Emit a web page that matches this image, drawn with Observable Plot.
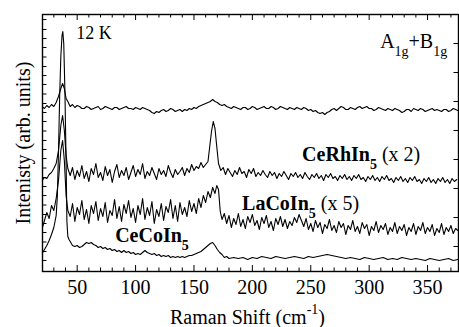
<!DOCTYPE html>
<html><head><meta charset="utf-8">
<script src="https://cdn.jsdelivr.net/npm/d3@7"></script>
<script src="https://cdn.jsdelivr.net/npm/@observablehq/plot@0.6"></script>
<style>html,body{margin:0;padding:0;background:#fff;} #chart{width:459px;height:327px;overflow:hidden}
#chart svg, #chart svg text, #chart svg tspan { font-family: "Liberation Serif", "Times New Roman", serif !important; }</style>
</head><body><div id="chart"></div>
<script>
// Raman shift (cm^-1) vs intensity (arb. units, curves already offset as plotted)
const curveTop = [[20,165],[22,163],[24,166],[26,164],[28,167],[30,165],[32,169],[34,175],[36,183],[37.5,188],[39,183],[40.5,173],[42,170],[44,165],[46,167],[48,164],[50,166],[52,165],[54,163],[56,163],[58,165],[60,164],[62,162],[64,163],[66,164],[68,165],[70,162],[72,163],[74,165],[76,164],[78,163],[80,162],[82,164],[84,164],[86,162],[88,163],[90,164],[92,165],[94,163],[96,163],[98,162],[100,164],[102,163],[104,162],[106,164],[108,163],[110,162],[112,161],[114,159],[116,158],[118,160],[120,159],[122,161],[124,162],[126,160],[128,161],[130,163],[132,162],[134,160],[136,161],[138,162],[140,160],[142,162],[144,161],[146,163],[148,162],[150,164],[152,163],[154,165],[156,166],[158,167],[160,168],[162,169],[164,170],[166,172],[167,171],[168,170],[170,169],[172,167],[174,166],[176,167],[178,165],[180,164],[182,163],[184,165],[186,164],[188,163],[190,162],[192,164],[194,164],[196,162],[198,163],[200,165],[202,164],[204,162],[206,163],[208,164],[210,165],[212,163],[214,163],[216,165],[218,164],[220,162],[222,163],[224,165],[226,164],[228,163],[230,162],[232,164],[234,163],[236,162],[238,164],[240,163],[242,162],[244,164],[246,163],[248,161],[250,162],[252,160],[254,161],[256,159],[258,158],[260,159],[262,157],[264,159],[266,160],[268,162],[270,163],[272,161],[274,163],[276,165],[278,164],[280,162],[282,162],[284,164],[286,163],[288,162],[290,164],[292,165],[294,163],[296,164],[298,165],[300,163],[302,163],[304,161],[306,162],[308,164],[310,163],[312,162],[314,161],[316,163],[318,162],[320,161],[322,163],[324,162],[326,161],[328,159],[330,160],[332,162],[334,162],[336,160],[338,163],[340,162],[342,161],[344,163],[346,162],[348,160],[350,161],[352,162],[354,163],[356,161],[358,162],[360,161],[362,160],[364,162],[366,162],[368,160],[370,161],[372,163],[374,162],[376,161]];

const curveCeRhIn5 = [[20,91],[22,94],[24,93],[26,97],[28,99],[30,103],[32,108],[34,121],[36,146],[37.5,156],[39,141],[40.5,116],[42,103],[44,96],[46,104],[48,92],[50,101],[52,95],[54,106],[56,93],[58,100],[60,90],[62,103],[64,97],[66,108],[68,94],[70,99],[72,91],[74,105],[76,96],[78,102],[80,89],[82,100],[84,107],[86,94],[88,101],[90,96],[92,104],[94,92],[96,99],[98,106],[100,95],[102,102],[104,97],[106,108],[108,93],[110,100],[112,96],[114,104],[116,98],[118,92],[120,103],[122,97],[124,101],[126,95],[128,106],[130,99],[132,94],[134,102],[136,97],[138,100],[140,104],[142,96],[144,103],[146,99],[148,107],[150,101],[152,105],[154,103],[156,109],[158,104],[160,107],[162,110],[163.5,125],[165,140],[166.5,150],[168,143],[169.5,125],[171,108],[173,101],[175,104],[177,97],[179,103],[181,99],[183,95],[185,101],[187,97],[189,104],[191,98],[193,100],[195,94],[197,102],[199,98],[201,103],[203,95],[205,99],[207,96],[209,101],[211,97],[213,94],[215,100],[217,96],[219,99],[221,93],[223,98],[225,95],[227,100],[229,96],[231,92],[233,98],[235,95],[237,99],[239,94],[241,97],[243,93],[245,99],[247,95],[249,92],[251,97],[253,94],[255,98],[257,93],[259,96],[261,91],[263,97],[265,94],[267,98],[269,93],[271,95],[273,91],[275,96],[277,93],[279,97],[281,92],[283,95],[285,91],[287,96],[289,93],[291,97],[293,92],[295,94],[297,90],[299,95],[301,92],[303,96],[305,91],[307,94],[309,90],[311,95],[313,92],[315,96],[317,91],[319,93],[321,89],[323,94],[325,91],[327,95],[329,90],[331,93],[333,89],[335,94],[337,91],[339,95],[341,90],[343,92],[345,88],[347,93],[349,90],[351,94],[353,89],[355,92],[357,88],[359,93],[361,90],[363,94],[365,89],[367,92],[369,88],[371,93],[373,90],[375,92]];

const curveLaCoIn5 = [[20,43],[22,51],[24,59],[26,53],[28,66],[30,61],[32,73],[34,91],[36,121],[37.5,131],[39,111],[40.5,76],[42,61],[44,55],[46,68],[48,50],[50,64],[52,57],[54,71],[56,52],[58,62],[60,48],[62,66],[64,58],[66,70],[68,51],[70,63],[72,55],[74,69],[76,49],[78,61],[80,56],[82,72],[84,53],[86,65],[88,50],[90,67],[92,58],[94,71],[96,54],[98,63],[100,49],[102,66],[104,57],[106,73],[108,52],[110,64],[112,56],[114,70],[116,48],[118,62],[120,55],[122,68],[124,51],[126,65],[128,59],[130,72],[132,53],[134,66],[136,50],[138,69],[140,57],[142,64],[144,55],[146,71],[148,60],[150,68],[152,58],[154,73],[156,64],[158,76],[160,69],[162,80],[164,74],[166,84],[168,78],[169.5,86],[171,82],[172.5,60],[174,52],[176,58],[178,48],[180,56],[182,44],[184,53],[186,47],[188,58],[190,45],[192,52],[194,43],[196,55],[198,49],[200,57],[202,46],[204,51],[206,42],[208,54],[210,48],[212,56],[214,44],[216,50],[218,41],[220,53],[222,47],[224,55],[226,45],[228,52],[230,43],[232,50],[234,46],[236,54],[238,49],[240,57],[242,51],[244,45],[246,53],[248,42],[250,48],[252,40],[254,51],[256,44],[258,49],[260,38],[262,47],[264,43],[266,52],[268,41],[270,46],[272,39],[274,50],[276,44],[278,48],[280,37],[282,46],[284,42],[286,51],[288,40],[290,45],[292,38],[294,49],[296,43],[298,47],[300,36],[302,45],[304,41],[306,50],[308,39],[310,46],[312,42],[314,48],[316,37],[318,44],[320,40],[322,49],[324,38],[326,45],[328,41],[330,47],[332,36],[334,44],[336,40],[338,48],[340,37],[342,45],[344,41],[346,49],[348,38],[350,44],[352,40],[354,47],[356,36],[358,43],[360,39],[362,48],[364,37],[366,44],[368,40],[370,46],[372,38],[374,43],[376,41]];

const curveCeCoIn5 = [[20,18],[22,22],[24,26],[26,31],[28,37],[30,44],[32,56],[33,75],[34,120],[35,175],[36,215],[37,236],[37.7,240],[38.5,228],[39.5,180],[40.5,110],[41.2,50],[42,35],[43,32],[44,30],[46,26],[48,25],[50,26],[52,24],[54,25],[56,27],[58,29],[60,28],[62,29],[64,27],[66,26],[68,24],[70,25],[72,23],[74,24],[76,22],[78,23],[80,21],[82,22],[84,20],[86,21],[88,19],[90,21],[92,19],[94,20],[96,18],[98,19],[100,17],[102,18],[104,17],[106,19],[108,21],[110,19],[112,18],[114,17],[116,18],[118,16],[120,17],[122,15],[124,16],[126,15],[128,16],[130,14],[132,15],[134,14],[136,15],[138,14],[140,15],[142,14],[144,15],[146,16],[148,16],[150,17],[152,18],[154,19],[156,20],[158,22],[160,24],[162,26],[164,28],[166,29],[168,26],[170,22],[172,19],[174,17],[176,14],[178,15],[180,13],[184,14],[188,13],[192,14],[196,12],[200,14],[204,13],[208,15],[212,14],[216,13],[220,15],[224,14],[228,13],[232,14],[236,15],[240,14],[244,13],[248,15],[252,14],[256,15],[260,16],[264,17],[268,16],[272,15],[276,14],[280,13],[284,14],[288,13],[292,12],[296,14],[300,13],[304,12],[308,13],[312,14],[316,12],[320,13],[324,12],[328,14],[332,13],[336,12],[340,13],[344,12],[348,11],[352,13],[356,12],[360,11],[364,12],[368,13],[372,11],[376,12]];

// axes
const xLabelTicks = [50, 100, 150, 200, 250, 300, 350];
const xMinorTicks = [30, 40, 60, 70, 80, 90, 110, 120, 130, 140, 160, 170, 180, 190, 210, 220, 230, 240, 260, 270, 280, 290, 310, 320, 330, 340, 360, 370];
const yLeftTicks = [11, 20, 29.5, 39, 48, 57, 66.5, 76, 85, 94, 103.5, 113, 122, 131, 140.5, 150, 159, 168, 177.5, 187, 196, 205, 214.5, 224, 233, 242, 252];
const yRightTicks = [25, 54, 83, 112, 141, 170, 199, 228];
const xTitle = "Raman Shift (cm^-1^)";
const yTitle = "Intenisty (arb. units)";

// annotations (markup: **bold**, _sub_, ^sup^)
const annText = ["12 K", "A_1g_+B_1g_", "**CeRhIn_5_** (x 2)", "**LaCoIn_5_** (x 5)", "**CeCoIn_5_**"];
const annX = [49.1, 309.4, 242.6, 191.2, 82.5];
const annY = [233, 224, 111, 62, 30];
const annSize = [18, 20, 20, 20, 20];

const series = [["top", curveTop], ["CeRhIn5", curveCeRhIn5], ["LaCoIn5", curveLaCoIn5], ["CeCoIn5", curveCeCoIn5]];
const lineData = series.flatMap(([s, pts]) => pts.map(([x, y]) => ({s, x, y})));
const ann = annText.map((t, i) => ({t, x: annX[i], y: annY[i], size: annSize[i]}));

const W = 459, H = 327, mT = 14, mB = 56, mL = 42, mR = 1;
const fH = H - mT - mB, fW = W - mL - mR;
const FONT = "Liberation Serif";

const chart = Plot.plot({
  width: W, height: H,
  marginTop: mT, marginBottom: mB, marginLeft: mL, marginRight: mR,
  x: {domain: [20.3, 376.5]},
  y: {domain: [0, 257], axis: null},
  style: {fontFamily: FONT, fontSize: "20px", color: "black", background: "white"},
  marks: [
    Plot.line(lineData, {x: "x", y: "y", z: "s", stroke: "#000", strokeWidth: 1.1, clip: true}),
    Plot.ruleX(xMinorTicks, {x: d => d, insetTop: fH - 3.5, stroke: "black", strokeWidth: 1}),
    Plot.ruleX(xLabelTicks, {x: d => d, insetTop: fH - 6, stroke: "black", strokeWidth: 1}),
    Plot.ruleX(xMinorTicks, {x: d => d, insetBottom: fH - 3.5, stroke: "black", strokeWidth: 1}),
    Plot.ruleX(xLabelTicks, {x: d => d, insetBottom: fH - 6, stroke: "black", strokeWidth: 1}),
    Plot.ruleY(yLeftTicks, {y: d => d, insetRight: fW - 4.5, stroke: "black", strokeWidth: 1}),
    Plot.ruleY(yRightTicks, {y: d => d, insetLeft: fW - 4.5, stroke: "black", strokeWidth: 1}),
    Plot.frame({stroke: "black", strokeWidth: 1.4}),
    Plot.axisX(xLabelTicks, {tickSize: 0, tickPadding: 8, fontSize: 20, fontFamily: FONT, label: null}),
    Plot.text([xTitle], {text: d => d, frameAnchor: "bottom", dy: 52, dx: -3, textAnchor: "middle", lineAnchor: "bottom", fontSize: 20, fontFamily: FONT}),
    Plot.text([yTitle], {text: d => d, frameAnchor: "left", rotate: -90, dx: -13, textAnchor: "middle", lineAnchor: "bottom", fontSize: 20, fontFamily: FONT}),
    Plot.text(ann, {x: "x", y: "y", text: "t", fontSize: "size", fontFamily: FONT, textAnchor: "start", lineAnchor: "bottom"})
  ]
});
document.getElementById("chart").appendChild(chart);

// rich text: bold / subscript / superscript as tspans
function parseMarkup(s) {
  const segs = []; let bold = false, mode = 0, buf = "";
  const flush = () => { if (buf) segs.push({text: buf, bold, mode}); buf = ""; };
  for (let i = 0; i < s.length; i++) {
    if (s.startsWith("**", i)) { flush(); bold = !bold; i++; continue; }
    if (s[i] === "_") { flush(); mode = mode === 1 ? 0 : 1; continue; }
    if (s[i] === "^") { flush(); mode = mode === 2 ? 0 : 2; continue; }
    buf += s[i];
  }
  flush();
  return segs;
}
d3.select(chart).selectAll("text").each(function() {
  const s = this.textContent;
  if (!/[_^]|\*\*/.test(s)) return;
  const fs = parseFloat(getComputedStyle(this).fontSize) || 20;
  const segs = parseMarkup(s);
  this.textContent = "";
  let cur = 0;
  for (const g of segs) {
    const target = g.mode === 1 ? 0.42 * fs : g.mode === 2 ? -0.5 * fs : 0;
    const t = d3.select(this).append("tspan").text(g.text);
    if (target !== cur) t.attr("dy", (target - cur) + "px");
    cur = target;
    if (g.mode) t.attr("font-size", (0.7 * fs) + "px");
    if (g.bold) t.attr("font-weight", "bold");
  }
});
</script></body></html>
